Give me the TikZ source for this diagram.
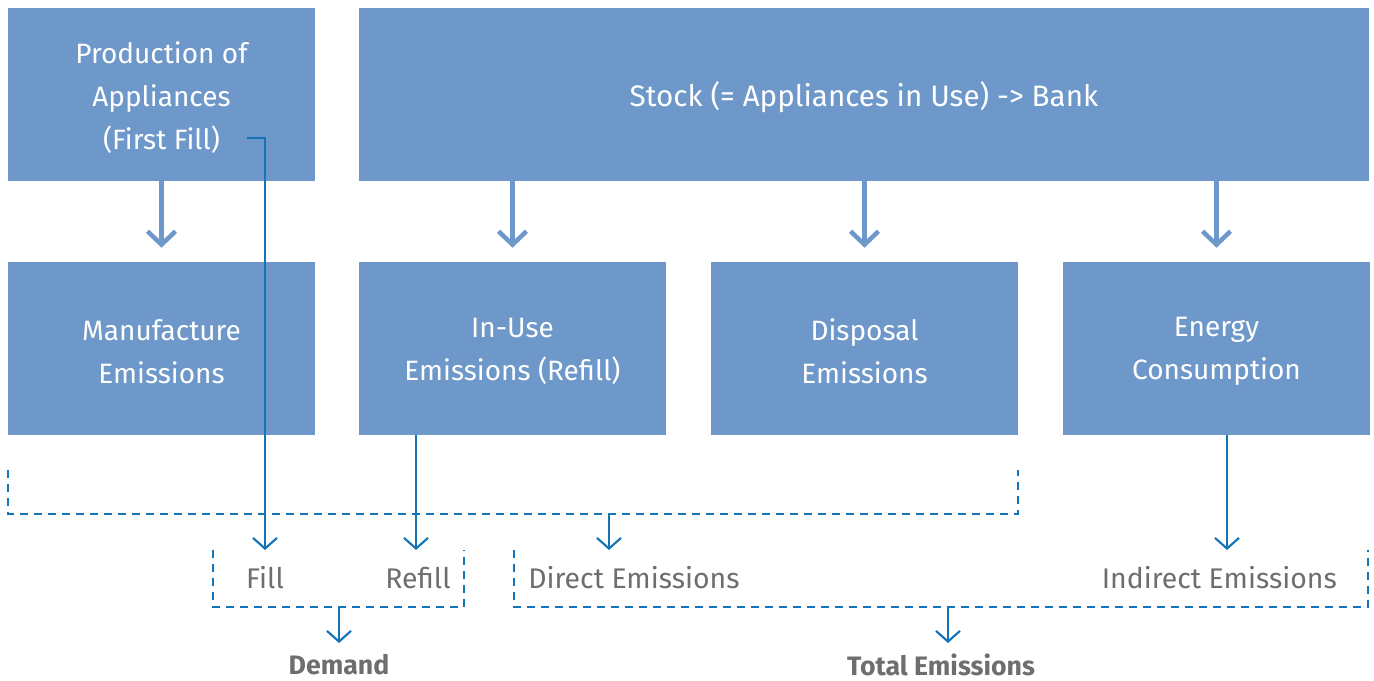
\documentclass[tikz,border=0pt]{standalone}
\usepackage{fontspec}
\setmainfont{Fira Sans}
\usetikzlibrary{arrows.meta}
\definecolor{boxblue}{RGB}{110,152,201}
\definecolor{lineblue}{RGB}{20,116,184}
\definecolor{txtgray}{RGB}{110,110,110}
\begin{document}
\begin{tikzpicture}[x=0.75pt,y=-0.75pt,
  bbox/.style={fill=boxblue,draw=none,minimum width=307*0.75pt,minimum height=173*0.75pt,inner sep=0pt},
  btxt/.style={text=white,align=center,font=\fontsize{21}{32}\selectfont,inner sep=0pt},
  fat/.style={draw=boxblue,line width=3.6pt,-{Straight Barb[length=10pt,width=21pt,line width=3.4pt]}},
  thin/.style={draw=lineblue,line width=1.6pt,-{Straight Barb[length=8pt,width=18pt,line width=1.6pt]}},
  dsh/.style={draw=lineblue,line width=1.3pt,dash pattern=on 6pt off 4.5pt},
  lbl/.style={text=txtgray,font=\fontsize{21.3}{24}\selectfont,inner sep=0pt},
  blbl/.style={text=txtgray,font=\fontsize{20}{24}\selectfont\bfseries,inner sep=0pt}]
\useasboundingbox (0,0) rectangle (1374,681);
% top row
\node[bbox] (prod) at (161.5,94.5) {};
\node[bbox,minimum width=1010*0.75pt] (stock) at (864,94.5) {};
% second row
\node[bbox] (manu) at (161.5,348.5) {};
\node[bbox] (inuse) at (512.5,348.5) {};
\node[bbox] (disp) at (864.5,348.5) {};
\node[bbox] (energy) at (1216.5,348.5) {};
% box texts
\node[btxt] (prodt) at ([yshift=-2.3pt]prod.center) {Production of\\Appliances\\(First Fill)};
\node[btxt,font=\fontsize{22.2}{32}\selectfont] (stockt) at ([yshift=-2.3pt]stock.center) {Stock (= Appliances in Use) -> Bank};
\node[btxt] (manut) at ([yshift=-2.3pt]manu.center) {Manufacture\\Emissions};
\node[btxt] (inuset) at ([yshift=-2.3pt]inuse.center) {In-Use\\Emissions (Refill)};
\node[btxt] (dispt) at ([yshift=-2.3pt]disp.center) {Disposal\\Emissions};
\node[btxt] (energyt) at ([yshift=-2.3pt]energy.center) {Energy\\Consumption};
% fat arrows
\draw[fat] (prod.south) -- ([yshift=10.5pt]manu.north);
\draw[fat] (stock.south -| inuse.north) -- ([yshift=10.5pt]inuse.north);
\draw[fat] (stock.south -| disp.north) -- ([yshift=10.5pt]disp.north);
\draw[fat] (stock.south -| energy.north) -- ([yshift=10.5pt]energy.north);
% bottom labels
\node[lbl,anchor=center] (fill) at (265,578) {Fill};
\node[lbl,anchor=center] (refill) at (418,578) {Refill};
\node[lbl,anchor=west] (direct) at (528,578) {Direct Emissions};
\node[lbl,anchor=east] (indirect) at (1337,578) {Indirect Emissions};
\node[blbl] (demand) at (339,665) {Demand};
\node[blbl] (total) at (941,665) {Total Emissions};
% coordinates
\coordinate (ffstart) at (247,138);
\coordinate (ffcorner) at (265,138);
\coordinate (fillend) at (265,550);
\coordinate (refillstart) at (416,435);
\coordinate (refillend) at (416,550);
\coordinate (indstart) at (1227,435);
\coordinate (indend) at (1227,550);
\coordinate (b1a) at (8,470);
\coordinate (b1b) at (8,514);
\coordinate (b1c) at (1018,514);
\coordinate (b1d) at (1018,470);
\coordinate (b1m) at (609,514);
\coordinate (b1e) at (609,550);
\coordinate (b2a) at (213,550);
\coordinate (b2b) at (213,607);
\coordinate (b2c) at (464,607);
\coordinate (b2d) at (464,550);
\coordinate (b2m) at (339,607);
\coordinate (b2e) at (339,643);
\coordinate (b3a) at (514,550);
\coordinate (b3b) at (514,607);
\coordinate (b3c) at (1368,607);
\coordinate (b3d) at (1368,550);
\coordinate (b3m) at (948,607);
\coordinate (b3e) at (948,643);
% thin arrows
\draw[thin] (ffstart) -- (ffcorner) -- (fillend);
\draw[thin] (refillstart) -- (refillend);
\draw[thin] (indstart) -- (indend);
\draw[thin] (b1m) -- (b1e);
\draw[thin] (b2m) -- (b2e);
\draw[thin] (b3m) -- (b3e);
% dashed brackets
\draw[dsh] (b1a) -- (b1b) -- (b1c) -- (b1d);
\draw[dsh] (b2a) -- (b2b) -- (b2c) -- (b2d);
\draw[dsh] (b3a) -- (b3b) -- (b3c) -- (b3d);
\end{tikzpicture}
\end{document}
